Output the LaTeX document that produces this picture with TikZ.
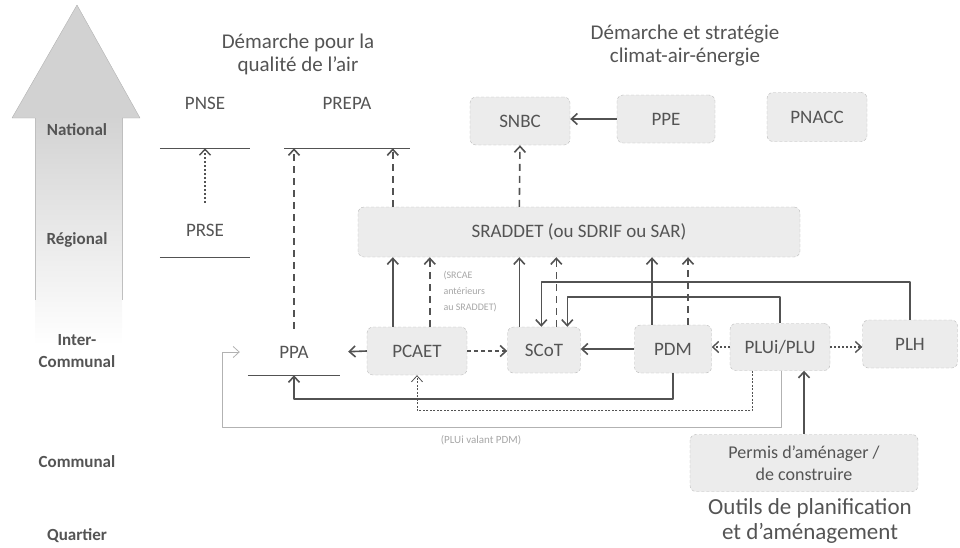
\documentclass[tikz,border=0pt]{standalone}
\usepackage{fontspec}
\setmainfont{Carlito}
\usetikzlibrary{arrows.meta}

\definecolor{txt}{gray}{0.33}
\definecolor{ln}{gray}{0.32}

\tikzset{
  plain/.style={text=txt, font=\fontsize{19}{21}\selectfont},
  box/.style={plain, draw=gray!55, densely dashed, rounded corners=6pt, fill=gray!15, align=center},
  level/.style={text=txt, font=\bfseries\fontsize{17}{22}\selectfont, align=center},
  title/.style={text=txt, font=\fontsize{21}{23}\selectfont, align=center},
  bigtext/.style={text=txt, font=\fontsize{23}{25}\selectfont, align=center},
  note/.style={text=gray!70, font=\fontsize{10}{16}\selectfont, align=left},
  bar/.style={draw=ln, line width=0.9pt},
  solidarr/.style={draw=ln, line width=1.6pt, -{Straight Barb[length=6pt,width=11pt]}},
  dasharr/.style={solidarr, dash pattern=on 7pt off 5pt},
  dotarr/.style={solidarr, line width=1.4pt, dash pattern=on 2pt off 2pt},
  dotthin/.style={draw=ln, line width=0.8pt, dash pattern=on 2pt off 1.5pt, -{Straight Barb[length=6pt,width=11pt]}},
  thinarr/.style={draw=gray!60, line width=0.8pt, -{Straight Barb[length=6pt,width=11pt]}}
}

\begin{document}
\begin{tikzpicture}[x=1pt, y=-1pt, line join=round]
\useasboundingbox (0,0) rectangle (960,547);

% Scale of territorial levels on the left.
\fill[gray!35] (77,5) -- (140,118) -- (12,118) -- cycle;
\shade[top color=gray!35, bottom color=white] (35,117) rectangle (122,345);
\draw[gray!60] (35,118) -- (12,118) -- (77,5) -- (140,118) -- (122,118);
\draw[gray!50] (35,118) -- (35,300);
\draw[gray!50] (122,118) -- (122,300);
\foreach \lvl/\ypos in {National/130, Régional/240, {Inter-\\Communal}/351, Communal/462, Quartier/536}
  \node[level] (lvl\ypos) at (77,\ypos) {\lvl};

% Titles of the two approaches.
\node[title] (airtitle) at (298,54) {Démarche pour la\\qualité de l'air};
\node[title] (climtitle) at (685,46) {Démarche et stratégie\\climat-air-énergie};

% Air quality plans.
\node[plain, minimum width=90pt, minimum height=90pt] (pnse) at (205,103) {PNSE};
\draw[bar] (pnse.south west) -- (pnse.south east);
\node[plain, minimum width=90pt, minimum height=54pt] (prse) at (205,230) {PRSE};
\draw[bar] (prse.south west) -- (prse.south east);
\draw[dotarr] (prse.north) -- (pnse.south);
\node[plain, minimum width=125pt, minimum height=90pt] (prepa) at (347,103) {PREPA};
\draw[bar] (prepa.south west) -- (prepa.south east);

% National climate-air-energy strategies.
\node[box, minimum width=100pt, minimum height=48pt] (snbc) at (520,121) {SNBC};
\node[box, minimum width=98pt, minimum height=48pt] (ppe) at (666,119) {PPE};
\node[box, minimum width=100pt, minimum height=49pt] (pnacc) at (817,117) {PNACC};
\draw[solidarr] (ppe.west) -- (ppe.west -| snbc.east);

% Regional scheme.
\node[box, minimum width=442pt, minimum height=50pt] (sraddet) at (579,232) {SRADDET (ou SDRIF ou SAR)};

% Inter-communal plans.
\node[plain, minimum width=92pt, minimum height=46pt] (ppa) at (294,352) {PPA};
\draw[bar] (ppa.south west) -- (ppa.south east);
\node[box, minimum width=100pt, minimum height=48pt] (pcaet) at (417,351) {PCAET};
\node[box, minimum width=73pt, minimum height=46pt] (scot) at (544,350) {SCoT};
\node[box, minimum width=77pt, minimum height=48pt] (pdm) at (673,349) {PDM};
\node[box, minimum width=100pt, minimum height=47pt] (plui) at (780,347) {PLUi/PLU};
\node[box, minimum width=95pt, minimum height=48pt] (plh) at (910,344) {PLH};

% Communal tools.
\node[box, minimum width=228pt, minimum height=57pt, font=\fontsize{18}{22}\selectfont] (permis) at (804,463) {Permis d'aménager /\\de construire};
\node[bigtext] (outils) at (810,521) {Outils de planification\\et d'aménagement};

% Notes.
\node[note, anchor=north west] (srcae) at (440,268) {(SRCAE\\antérieurs\\au SRADDET)};
\node[note, font=\fontsize{11}{13}\selectfont] (pdmnote) at (481,440) {(PLUi valant PDM)};

% Links up to the regional scheme.
\coordinate (pc1) at ([xshift=26pt]pcaet.north west);
\coordinate (pc2) at ([xshift=63pt]pcaet.north west);
\coordinate (sc0) at ([xshift=12pt]scot.north west);
\coordinate (sc3) at ([xshift=49pt]scot.north west);
\coordinate (pd1) at ([xshift=-21pt]pdm.north);
\coordinate (pd2) at ([xshift=15pt]pdm.north);
\draw[solidarr] (pc1) -- (pc1 |- sraddet.south);
\draw[dasharr] (pc2) -- (pc2 |- sraddet.south);
\draw[solidarr] (sc0) -- (sc0 |- sraddet.south);
\draw[dasharr] (sc3) -- (sc3 |- sraddet.south);
\draw[solidarr] (pd1) -- (pd1 |- sraddet.south);
\draw[dasharr] (pd2) -- (pd2 |- sraddet.south);

% Links up to the national level.
\coordinate (sr1) at (pc1 |- sraddet.north);
\coordinate (sr2) at (sc0 |- sraddet.north);
\draw[dasharr] (sr1) -- (sr1 |- prepa.south);
\draw[dasharr] (sr2) -- (snbc.south);
\draw[dasharr] (ppa.north) -- (ppa.north |- prepa.south);

% Links inside the inter-communal row.
\draw[solidarr, shorten >=8pt] (pcaet.west) -- (ppa.east);
\draw[dasharr, dash pattern=on 4pt off 3pt] (pcaet.east) -- (pcaet.east -| scot.west);
\draw[solidarr] (pdm.west) -- (pdm.west -| scot.east);
\draw[dotarr] (plui.west) -- (plui.west -| pdm.east);
\draw[dotarr] (plui.east) -- (plui.east -| plh.west);
\draw[solidarr] (permis.north) -- (permis.north |- plui.south);

% Links over the row to the SCoT.
\coordinate (sc1) at ([xshift=34pt]scot.north west);
\coordinate (sc2) at ([xshift=60pt]scot.north west);
\draw[solidarr] (plh.north) |- ([yshift=45pt]sc1) -- (sc1);
\draw[solidarr] (plui.north) |- ([yshift=30pt]sc2) -- (sc2);

% Links under the row.
\coordinate (pl1) at ([xshift=23pt]plui.south west);
\coordinate (pl2) at ([xshift=52pt]plui.south west);
\coordinate (loopL) at (222,427);
\draw[solidarr] (pdm.south) |- ([yshift=-24pt]ppa.south) -- (ppa.south);
\draw[dotthin] (pl1) |- ([yshift=-35pt]pcaet.south) -- (pcaet.south);
\draw[thinarr] (pl2) |- (loopL) |- ([xshift=-8pt]ppa.west);
\end{tikzpicture}
\end{document}
